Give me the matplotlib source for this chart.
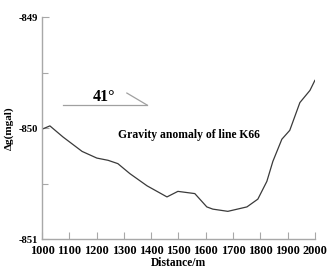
import matplotlib
matplotlib.use("Agg")
import matplotlib.pyplot as plt

distance = [1000, 1029, 1077, 1147, 1201, 1242, 1278, 1322, 1385, 1458, 1498, 1560,
            1604, 1626, 1681, 1751, 1791, 1824, 1846, 1879, 1908, 1945, 1982, 2000]
gravity = [-850.01, -849.98, -850.08, -850.21, -850.27, -850.29, -850.32, -850.41,
           -850.52, -850.62, -850.57, -850.59, -850.71, -850.73, -850.75, -850.71,
           -850.64, -850.48, -850.30, -850.10, -850.02, -849.77, -849.66, -849.57]
xticks = [1000, 1100, 1200, 1300, 1400, 1500, 1600, 1700, 1800, 1900, 2000]
yticks = [-851, -850, -849]

plt.rcParams['font.family'] = ['Liberation Serif', 'DejaVu Serif']
fig = plt.figure(figsize=(3.28, 2.72), dpi=100)
ax = fig.add_axes([0.128, 0.121, 0.832, 0.816])

axis_c = '#a8a8a8'
ax.plot(distance, gravity, color='#3a3a3a', lw=0.9)
ax.set_xlim(1000, 2000)
ax.set_ylim(-851, -849)
ax.set_xticks(xticks)
ax.set_xticklabels([str(v) for v in xticks], fontsize=8.8, fontweight='bold')
ax.set_yticks(yticks)
ax.set_yticklabels([str(v) for v in yticks], fontsize=7.6, fontweight='bold')
ax.set_yticks([-850.5, -849.5], minor=True)
ax.tick_params(axis='both', which='both', direction='in', color=axis_c, width=0.8)
ax.tick_params(axis='both', which='major', length=5)
ax.tick_params(axis='x', which='major', pad=4.5)
ax.tick_params(axis='y', which='major', pad=3)
ax.tick_params(axis='y', which='minor', length=4)
for s in ['top', 'right']:
    ax.spines[s].set_visible(False)
for s in ['left', 'bottom']:
    ax.spines[s].set_color(axis_c)
    ax.spines[s].set_linewidth(1.0)

ax.set_xlabel('Distance/m', fontsize=8.3, fontweight='bold', labelpad=0)
ax.set_ylabel('Δg(mgal)', fontsize=8, fontweight='bold', labelpad=3)

ax.plot([0.077, 0.385], [0.604, 0.604], transform=ax.transAxes, color='#a0a0a0', lw=0.9)
ax.plot([0.311, 0.385], [0.658, 0.604], transform=ax.transAxes, color='#a0a0a0', lw=0.9)
ax.text(0.227, 0.64, '41°', transform=ax.transAxes, ha='center', va='center',
        fontsize=11.5, fontweight='bold')
ax.text(0.538, 0.468, 'Gravity anomaly of line K66', transform=ax.transAxes,
        ha='center', va='center', fontsize=8.4, fontweight='bold')

fig.savefig('out.png', dpi=100)
